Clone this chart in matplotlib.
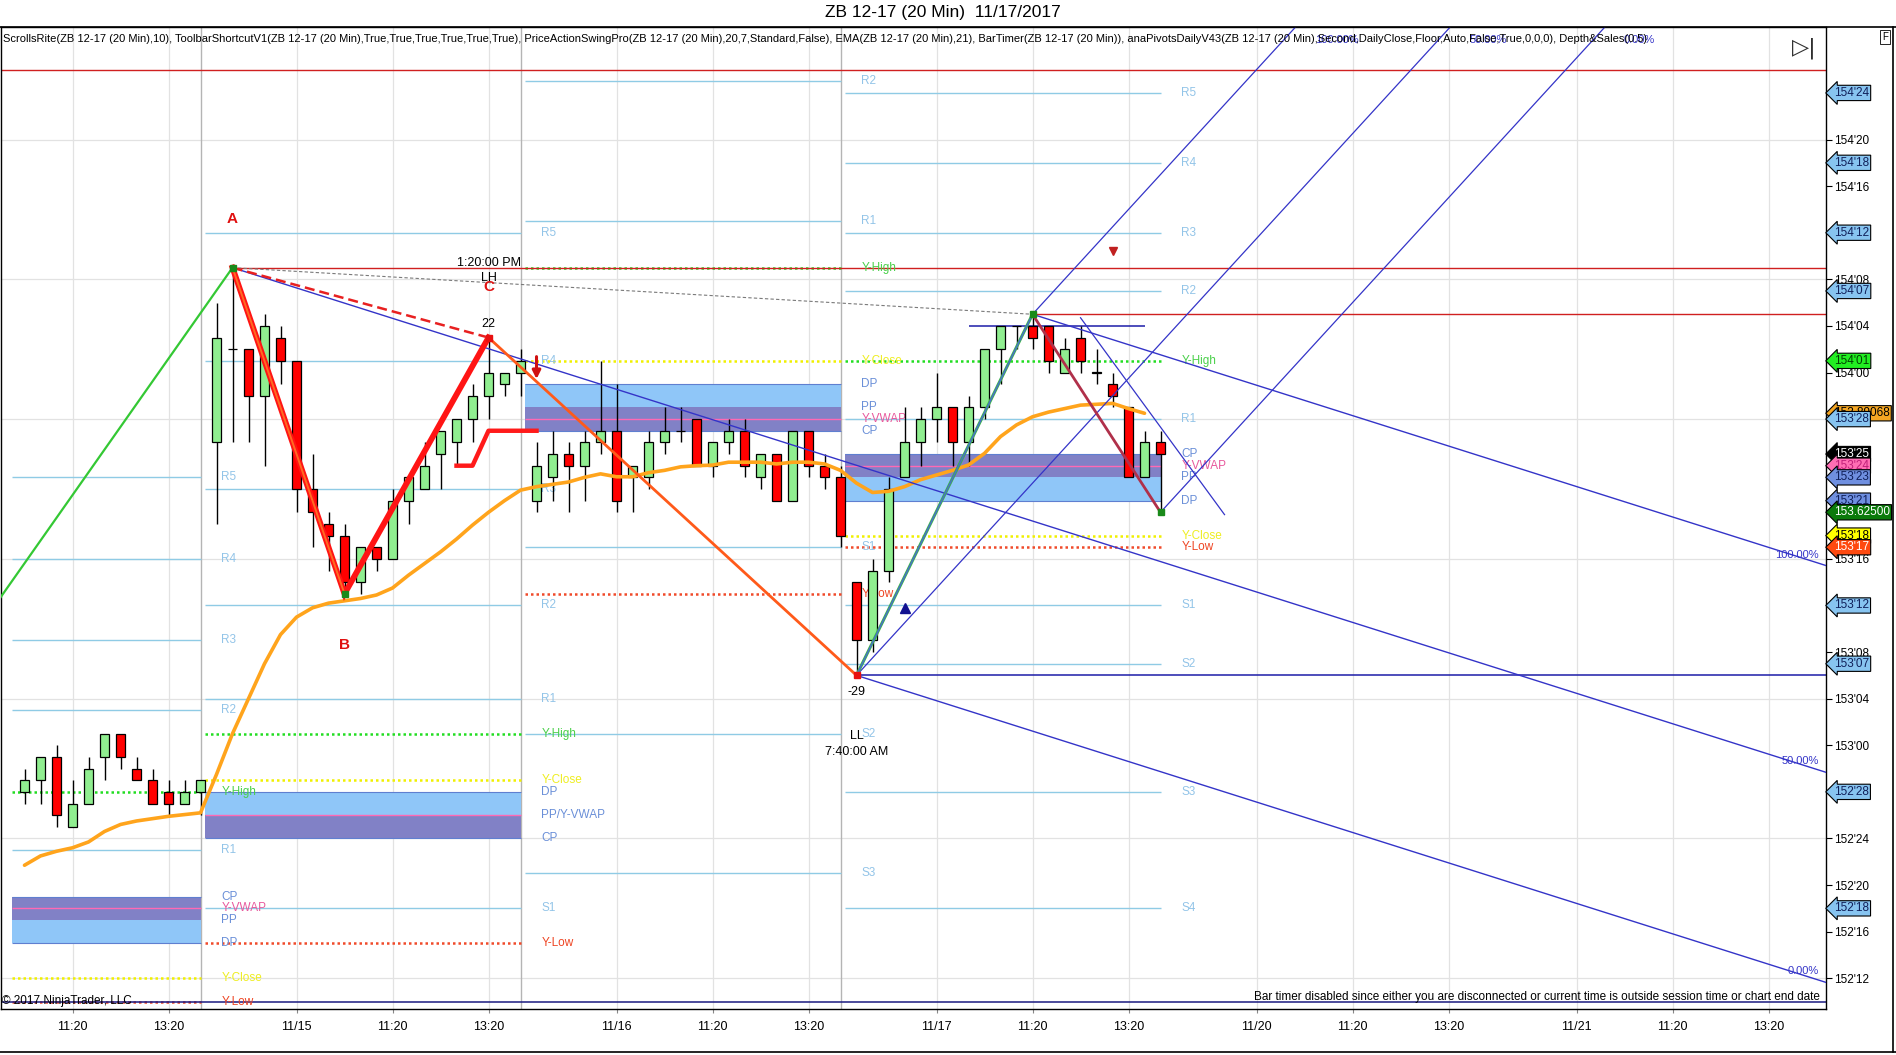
import numpy as np
import matplotlib
matplotlib.use('Agg')
from matplotlib import pyplot as plt
from matplotlib import font_manager as fm
from matplotlib.lines import Line2D
import matplotlib.transforms as mtransforms

names = {f.name for f in fm.fontManager.ttflist}
narrow = 'Liberation Sans Narrow' if 'Liberation Sans Narrow' in names else 'Liberation Sans'
plt.rcParams['font.family'] = [narrow, 'DejaVu Sans']

# prices are in 32nds above 152'00  (price = 152 + v/32)
bar_idx = list(range(8, 80))
opens = [28, 29, 31, 25, 27, 31, 33, 30, 29, 28, 27, 28,
         58, 66, 66, 62, 67, 65, 54, 51, 50, 46, 49, 48, 53, 54, 57, 58, 60, 62, 63, 64,
         53, 55, 57, 56, 58, 59, 55, 55, 58, 59, 60, 56, 58, 59, 55, 57, 53, 59, 56, 55,
         46, 41, 47, 55, 58, 60, 61, 58, 61, 66, 68, 68, 68, 64, 67, 64, 63, 61, 55, 58]
highs = [30, 31, 32, 29, 31, 33, 33, 31, 30, 29, 29, 29,
         70, 73, 66, 69, 68, 65, 57, 52, 51, 49, 49, 54, 55, 58, 59, 60, 63, 67, 64, 66,
         58, 59, 58, 59, 65, 63, 56, 59, 61, 61, 60, 58, 60, 60, 57, 57, 59, 59, 57, 56,
         46, 48, 55, 61, 61, 64, 61, 62, 66, 68, 68, 69, 68, 67, 68, 66, 64, 61, 59, 59]
lows = [27, 27, 25, 25, 27, 29, 30, 29, 27, 26, 27, 26,
        51, 58, 58, 56, 63, 52, 49, 47, 45, 45, 47, 48, 51, 54, 54, 56, 58, 60, 62, 62,
        52, 53, 52, 53, 57, 52, 52, 54, 57, 58, 56, 55, 57, 55, 54, 53, 53, 55, 54, 49,
        38, 40, 46, 55, 56, 58, 56, 56, 60, 63, 66, 66, 64, 64, 64, 63, 61, 55, 55, 52]
closes = [29, 31, 26, 27, 30, 33, 31, 29, 27, 27, 28, 29,
          67, 66, 62, 68, 65, 54, 52, 50, 46, 49, 48, 53, 55, 56, 59, 60, 62, 64, 64, 65,
          56, 57, 56, 58, 59, 53, 56, 58, 59, 59, 56, 58, 59, 56, 57, 53, 59, 56, 55, 50,
          41, 47, 54, 58, 60, 61, 58, 61, 66, 68, 68, 67, 65, 66, 65, 64, 62, 55, 58, 57]
ema21 = [21.7, 22.5, 22.9, 23.2, 23.7, 24.6, 25.2, 25.5, 25.7, 25.9, 26.05, 26.2,
         29.5, 33.0, 36.0, 39.0, 41.5, 43.0, 43.8, 44.2, 44.4, 44.6, 44.9, 45.5, 46.6, 47.6,
         48.6, 49.7, 50.9, 52.0, 53.0, 53.9,
         54.2, 54.4, 54.6, 55.0, 55.3, 55.05, 55.05, 55.4, 55.6, 55.9, 56.0, 56.05, 56.3,
         56.3, 56.3, 56.15, 56.3, 56.3, 56.15, 55.6,
         54.5, 53.7, 53.8, 54.2, 54.8, 55.2, 55.6, 56.06, 57.06, 58.5, 59.5, 60.2, 60.6,
         60.9, 61.2, 61.27, 61.35, 60.9, 60.5]

# daily pivots (one column per session)
level_names = ['R5', 'R4', 'R3', 'R2', 'R1', 'Y-High', 'Y-Close', 'CP', 'Y-VWAP',
               'PP', 'DP', 'S1', 'Y-Low', 'S2', 'S3', 'S4']
lv_1114 = [55, 48, 41, 35, 23, 28, 12, 19, 18, 17, 15, None, 10, None, None, None]
lv_1115 = [76, 65, 54, 44, 36, 33, 29, 24, 26, 26, 28, 18, 15, None, None, None]
lv_1116 = [None, None, None, 89, 77, 73, 65, 59, 60, 61, 63, 49, 45, 33, 21, None]
lv_1117 = [88, 82, 76, 71, 60, 65, 50, 57, 56, 55, 53, 44, 49, 39, 28, 18]
seg_start = [7.2, 19.3, 39.3, 59.3]
seg_end = [19, 39, 59, 79]

# swings
swing_idx = [0, 21, 28, 37, 60, 71, 79]
swing_val = [32, 73, 45, 67, 38, 69, 52]

# time axis
tick_pos = [11, 17, 25, 31, 37, 45, 51, 57, 65, 71, 77, 85, 91, 97, 105, 111, 117]
tick_lab = ['11:20', '13:20', '11/15', '11:20', '13:20', '11/16', '11:20', '13:20',
            '11/17', '11:20', '13:20', '11/20', '11:20', '13:20', '11/21', '11:20', '13:20']
session_breaks = [19, 39, 59]

# right axis tags
tag_vals = [88, 82, 76, 71, 65, 60.5, 60, 57, 56, 55, 53, 52, 50, 49, 44, 39, 28, 18]
tag_text = ["154'24", "154'18", "154'12", "154'07", "154'01", "153.89068", "153'28",
            "153'25", "153'24", "153'23", "153'21", "153.62500", "153'18", "153'17",
            "153'12", "153'07", "152'28", "152'18"]
tag_fc = ['#87c4f0', '#87c4f0', '#87c4f0', '#87c4f0', '#22ee22', '#f5a623', '#87c4f0',
          '#000000', '#ff6eb4', '#6f8fe0', '#6f8fe0', '#0a7a0a', '#ffff00', '#ff4a10',
          '#87c4f0', '#87c4f0', '#87c4f0', '#87c4f0']
tag_tc = ['#10205a', '#10205a', '#10205a', '#10205a', '#004000', 'black', '#10205a',
          'white', '#c0207a', '#10205a', '#10205a', 'white', 'black', 'white',
          '#10205a', '#10205a', '#10205a', '#10205a']


def p(v):
    return 152 + np.asarray(v, dtype=float) / 32.0


def fmt32(v):
    return "%d'%02d" % (152 + v // 32, v % 32)


W, H = 1896, 1055
fig = plt.figure(figsize=(W / 100, H / 100), dpi=100)
ax = fig.add_axes([0.5 / W, (H - 1009) / H, 1825 / W, (1009 - 27) / H])
x_lo, x_hi = 6.5, 120.56
ax.set_xlim(x_lo, x_hi)
ax.set_ylim(p(9.36), p(93.66))

# grid
for t in tick_pos:
    ax.axvline(t, color='#e2e2e2', lw=0.9, zorder=0)
for v in range(12, 93, 12):
    ax.axhline(p(v), color='#e2e2e2', lw=0.9, zorder=0)
for s in session_breaks:
    ax.axvline(s, color='#b4b4b4', lw=1.0, zorder=0.5)

# pivots
rs_line, rs_lab = '#8fcbe5', '#92c4e8'
style = {'Y-High': ('#22dd22', '#4ad04a'), 'Y-Close': ('#f0f000', '#eeee20'),
         'Y-Low': ('#f04a2a', '#ee4422'), 'Y-VWAP': ('#ff69b4', '#e8589c')}
band_col = {'CP': '#6a8fd8', 'PP': '#6a8fd8', 'DP': '#6a8fd8'}
for d, lv in enumerate([lv_1114, lv_1115, lv_1116, lv_1117]):
    x0, x1 = seg_start[d], seg_end[d]
    lvd = dict(zip(level_names, lv))
    ax.fill_between([x0, x1], p(lvd['DP']), p(lvd['PP']), color='#8fc6f8', lw=0, zorder=1)
    ax.fill_between([x0, x1], p(lvd['PP']), p(lvd['CP']), color='#8181c6', lw=0, zorder=1)
    ax.hlines([p(lvd['DP']), p(lvd['CP'])], x0, x1, color='#5f7fd0', lw=0.8, zorder=1.2)
    for name, v in zip(level_names, lv):
        if v is None:
            continue
        lab = name
        if name in ('R5', 'R4', 'R3', 'R2', 'R1', 'S1', 'S2', 'S3', 'S4'):
            ax.hlines(p(v), x0, x1, color=rs_line, lw=1.0, zorder=1.5)
            col = rs_lab
        elif name in band_col:
            col = band_col[name]
            if name == 'PP' and lvd['Y-VWAP'] == v:
                lab = 'PP/Y-VWAP'
        else:
            lc, col = style[name]
            if name == 'Y-VWAP':
                ax.hlines(p(v), x0, x1, color=lc, lw=1.0, zorder=1.6)
                if lvd['PP'] == v:
                    continue
            else:
                ax.hlines(p(v), x0, x1, color=lc, lw=1.8, linestyles=(0, (1, 1.2)), zorder=1.6)
        ax.text(x1 + 1.3, p(v), lab, color=col, fontsize=8.5, va='center', ha='left', zorder=3)

# horizontal drawing lines
ax.axhline(p(90), color='#d02020', lw=1.0, zorder=2)
ax.hlines(p(swing_val[1]), swing_idx[1], x_hi, color='#d02020', lw=1.0, zorder=2)
ax.hlines(p(swing_val[5]), swing_idx[5], x_hi, color='#d02020', lw=1.0, zorder=2)
ax.hlines(p(swing_val[4]), swing_idx[4], x_hi, color='#1c1ca8', lw=1.1, zorder=2)
ax.hlines(p(68), 67, 78, color='#1c1ca8', lw=1.1, zorder=2)
ax.axhline(p(10), color='#1a1a80', lw=1.1, zorder=2)

# candles
o, hh, ll, c = map(np.asarray, (opens, highs, lows, closes))
xi = np.asarray(bar_idx)
ax.vlines(xi, p(ll), p(hh), color='black', lw=1.0, zorder=4)
up = c >= o
body_lo = np.minimum(o, c)
body_h = np.maximum(np.abs(c - o), 0.02)
ax.bar(xi, body_h / 32.0, bottom=p(body_lo), width=0.62,
       color=np.where(up, '#90ee90', '#ff0000'), edgecolor='black', lw=0.9, zorder=5)

# ema
ax.plot(bar_idx[:len(ema21)], p(ema21), color='#ffa41c', lw=2.6, zorder=6, solid_capstyle='round')

# channel (descending) and pitchfork (ascending)
slope_dn = -0.435
for (ix, v) in [(swing_idx[5], swing_val[5]), (swing_idx[1], swing_val[1]), (swing_idx[4], swing_val[4])]:
    xs = np.array([ix, x_hi])
    ax.plot(xs, p(v + slope_dn * (xs - ix)), color='#3434c8', lw=1.0, zorder=6.5)
ax.plot([swing_idx[1], swing_idx[5]], p([swing_val[1], swing_val[5]]), color='#7a7a7a',
        lw=0.8, ls=(0, (3, 2)), zorder=6.5)
mid_x = (swing_idx[5] + swing_idx[6]) / 2
mid_v = (swing_val[5] + swing_val[6]) / 2
slope_up = (mid_v - swing_val[4]) / (mid_x - swing_idx[4])
top_v = 93.66
pf_lab = ['100.00%', '50.00%', '0.00%']
for k, (ix, v) in enumerate([(swing_idx[5], swing_val[5]), (swing_idx[4], swing_val[4]),
                             (swing_idx[6], swing_val[6])]):
    xe = ix + (top_v - v) / slope_up
    ax.plot([ix, xe], p([v, top_v]), color='#3434c8', lw=0.9, zorder=6.5)
ax.plot([74, 83], p([68.7, 51.8]), color='#3434c8', lw=0.9, zorder=6.5)

# swing lines
sx, sv = swing_idx, swing_val
ax.plot(sx[0:2], p(sv[0:2]), color='#34c834', lw=1.6, zorder=7)
ax.plot(sx[1:4], p(sv[1:4]), color='#ff1414', lw=4.2, zorder=7, solid_joinstyle='miter')
ax.plot(sx[1:3], p(sv[1:3]), color='#ff6a22', lw=1.4, zorder=7.1)
ax.plot([sx[1], sx[3]], p([sv[1], sv[3]]), color='#e82020', lw=1.8, ls=(0, (4, 2)), zorder=7)
ax.plot(sx[3:5], p(sv[3:5]), color='#ff5a1a', lw=2.0, zorder=7)
ax.plot(sx[4:6], p(sv[4:6]), color='#3cb44b', lw=2.2, zorder=7)
ax.plot(sx[4:6], p(sv[4:6]), color='#4a6ad0', lw=1.0, zorder=7.1)
ax.plot(sx[5:7], p(sv[5:7]), color='#b0304a', lw=2.0, zorder=7)
ax.plot(sx[1:3], p(sv[1:3]), 's', color='#1a8a1a', ms=5, zorder=8)
ax.plot([sx[5], sx[6]], p([sv[5], sv[6]]), 's', color='#1a8a1a', ms=5, zorder=8)
ax.plot([sx[3], sx[4]], p([sv[3], sv[4]]), 's', color='#e81010', ms=5, zorder=8)

# stop step + signals
ax.plot([35, 36, 37, 40], p([56, 56, 59, 59]), color='#ff1a1a', lw=3.2, zorder=7)
ax.annotate('', xy=(40, p(63.2)), xytext=(40, p(65.6)),
            arrowprops=dict(arrowstyle='-|>', color='#d01010', lw=2.2, mutation_scale=12), zorder=8)
ax.plot([63], p([43.8]), '^', color='#101090', ms=7, zorder=8)
ax.plot([76], p([74.4]), 'v', color='#c02020', ms=6, zorder=8)

# annotations
ax.text(sx[1], p(sv[1] + 4.2), 'A', color='#e01010', fontsize=11, fontweight='bold', ha='center', va='center', zorder=9)
ax.text(sx[2], p(sv[2] - 4.4), 'B', color='#e01010', fontsize=11, fontweight='bold', ha='center', va='center', zorder=9)
ax.text(sx[3], p(sv[3] + 4.3), 'C', color='#e01010', fontsize=11, fontweight='bold', ha='center', va='center', zorder=9)
ax.text(sx[3], p(sv[3] + 6.4), '1:20:00 PM', color='black', fontsize=9, ha='center', va='center', zorder=9)
ax.text(sx[3], p(sv[3] + 5.1), 'LH', color='black', fontsize=9, ha='center', va='center', zorder=9)
ax.text(sx[3], p(sv[3] + 1.2), '22', color='black', fontsize=9, ha='center', va='center', zorder=9)
ax.text(sx[4], p(sv[4] - 1.4), '-29', color='black', fontsize=9, ha='center', va='center', zorder=9)
ax.text(sx[4], p(sv[4] - 5.2), 'LL', color='black', fontsize=9, ha='center', va='center', zorder=9)
ax.text(sx[4], p(sv[4] - 6.6), '7:40:00 AM', color='black', fontsize=9, ha='center', va='center', zorder=9)
for k, (ix, v) in enumerate([(sx[5], sv[5]), (sx[1], sv[1]), (sx[4], sv[4])]):
    ax.text(x_hi - 0.4, p(v + slope_dn * (x_hi - ix) + 0.5), pf_lab[k], color='#3434c8',
            fontsize=8, ha='right', va='bottom', zorder=9)

blend = mtransforms.blended_transform_factory(ax.transAxes, ax.transData)
ax.text(0.001, p(10.05), '\u00a9 2017 NinjaTrader, LLC', color='black', fontsize=8.5,
        ha='left', va='center', transform=blend, zorder=9)
ax.text(0.997, p(10.4), 'Bar timer disabled since either you are disconnected or current time is outside session time or chart end date',
        color='black', fontsize=8.5, ha='right', va='center', transform=blend, zorder=9)

# axes styling
ax.set_xticks(tick_pos)
ax.set_xticklabels(tick_lab)
ax.tick_params(axis='x', length=3, labelsize=9, pad=6, color='#888888')
ax.yaxis.tick_right()
yt = list(range(12, 89, 4))
ax.set_yticks(p(yt))
ax.set_yticklabels([fmt32(v) for v in yt], family=['Liberation Sans', 'DejaVu Sans'])
ax.tick_params(axis='y', length=4, labelsize=8.5, pad=2, direction='out')
for sp in ax.spines.values():
    sp.set_color('black')
    sp.set_linewidth(1.0)

for v, s, fc, tc in zip(tag_vals, tag_text, tag_fc, tag_tc):
    ax.text(1.0046, p(v), s, transform=blend, ha='left', va='center', fontsize=8.5, color=tc,
            family=['Liberation Sans', 'DejaVu Sans'],
            bbox=dict(boxstyle='larrow,pad=0.14', fc=fc, ec='black', lw=0.8),
            clip_on=False, zorder=20)

# header
fig.text(943 / W, 1 - 12 / H, 'ZB 12-17 (20 Min)  11/17/2017', ha='center', va='center', fontsize=12.5)
header = ('ScrollsRite(ZB 12-17 (20 Min),10), ToolbarShortcutV1(ZB 12-17 (20 Min),True,True,True,True,True,True), '
          'PriceActionSwingPro(ZB 12-17 (20 Min),20,7,Standard,False), EMA(ZB 12-17 (20 Min),21), '
          'BarTimer(ZB 12-17 (20 Min)), anaPivotsDailyV43(ZB 12-17 (20 Min),Second,DailyClose,Floor,Auto,False,True,0,0,0), Depth&Sales(0.5)')
fig.text(3 / W, 1 - 39 / H, header, ha='left', va='center', fontsize=8)
for k, (ix, v) in enumerate([(sx[5], sv[5]), (sx[4], sv[4]), (sx[6], sv[6])]):
    xe = ix + (top_v - v) / slope_up
    ax.text(xe + 1.2, p(top_v - 0.7), pf_lab[k], color='#3434c8', fontsize=8, ha='left', va='top', zorder=9)
fig.text(1804 / W, 1 - 48 / H, '\u25b7|', ha='center', va='center', fontsize=16, color='#303030',
         family='DejaVu Sans')
fig.text(1885 / W, 1 - 37 / H, 'F', ha='center', va='center', fontsize=7,
         bbox=dict(boxstyle='square,pad=0.2', fc='white', ec='black', lw=0.6))
fig.add_artist(Line2D([0, 1], [1 - 27 / H, 1 - 27 / H], color='black', lw=1.2))
fig.add_artist(Line2D([0, 1], [1 - 1052 / H, 1 - 1052 / H], color='black', lw=1.2))
fig.add_artist(Line2D([1893 / W, 1893 / W], [1 - 1052 / H, 1 - 27 / H], color='black', lw=1.2))

fig.savefig('out.png', dpi=100)
